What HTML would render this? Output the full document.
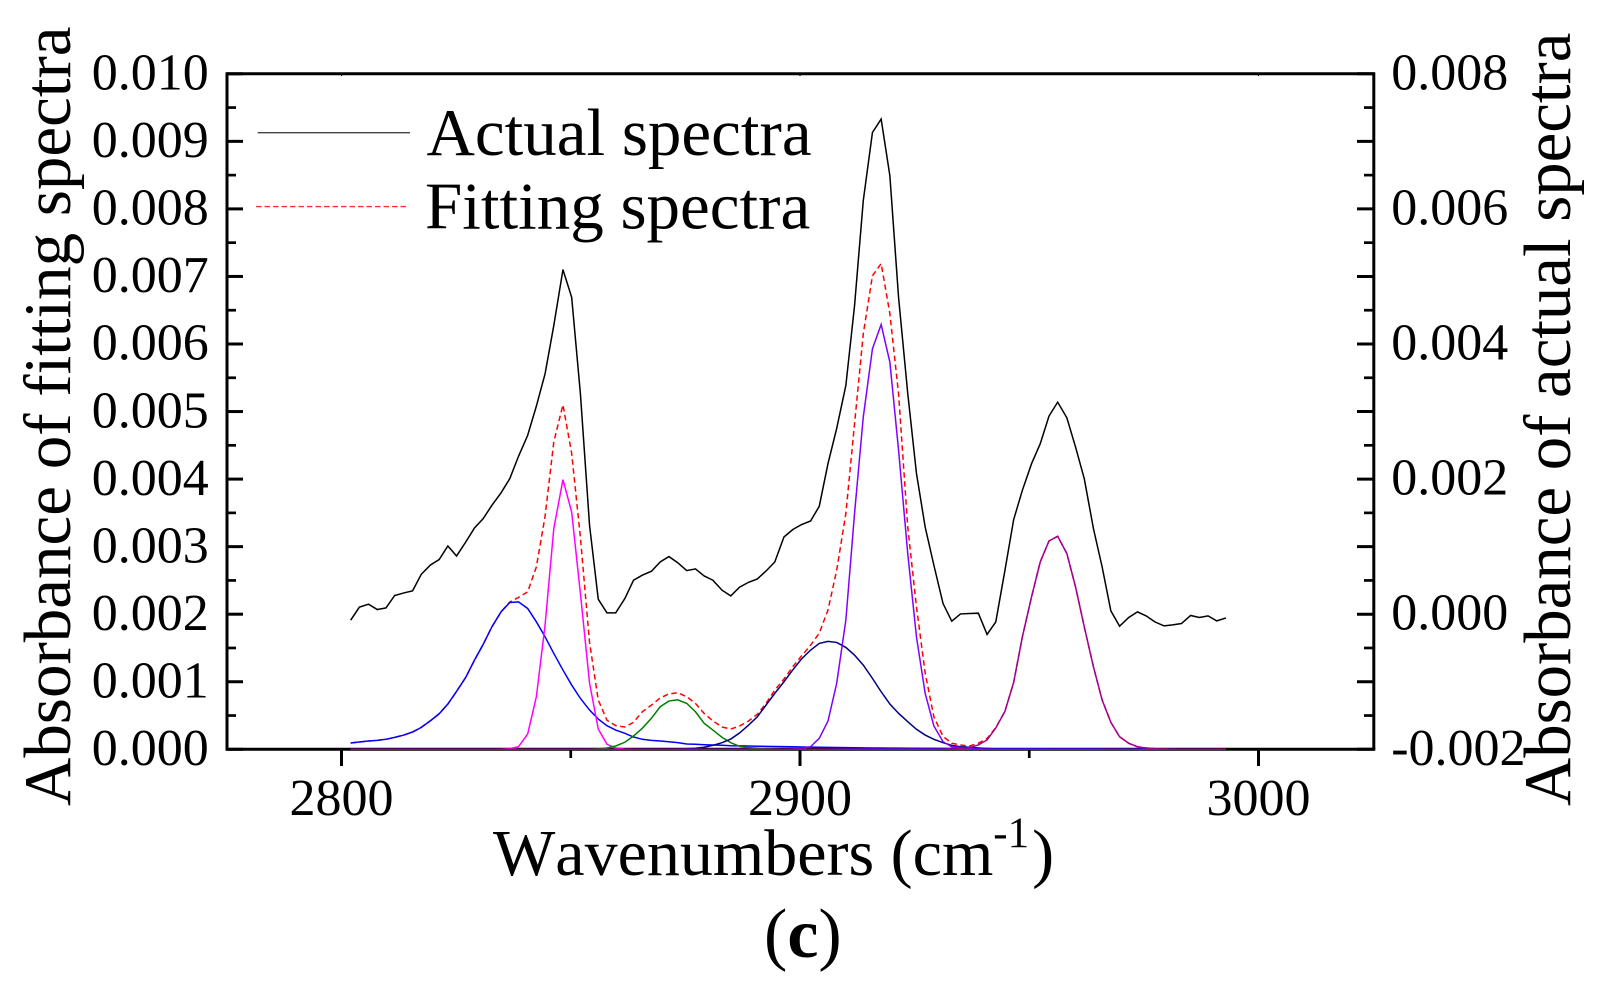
<!DOCTYPE html>
<html>
<head>
<meta charset="utf-8">
<title>Absorbance spectra (c)</title>
<style>
html,body{margin:0;padding:0;background:#fff;width:1605px;height:993px;overflow:hidden}
svg{display:block}
text{font-family:"Liberation Serif","Times New Roman",serif;fill:#000}
</style>
</head>
<body>
<svg id="chart" xmlns="http://www.w3.org/2000/svg" width="1605" height="993" viewBox="0 0 1605 993">
  <rect x="0" y="0" width="1605" height="993" fill="#fff"/>
  <g id="ticks"></g>
  <g id="series"></g>
  <path d="M227 749.3V73.8H1373.8V749.3" fill="none" stroke="#000" stroke-width="3"/>
  <g id="labels"></g>

  <line x1="257.7" y1="132.7" x2="410" y2="132.7" stroke="#444" stroke-width="1.4"/>
  <text x="426.5" y="155" font-size="67">Actual spectra</text>
  <line x1="256" y1="206.6" x2="408" y2="206.6" stroke="#ff3030" stroke-width="1.4" stroke-dasharray="5.5 3"/>
  <text x="425" y="228.5" font-size="67">Fitting spectra</text>

  <text transform="translate(70 806) rotate(-90)" font-size="67">Absorbance of fitting spectra</text>
  <text transform="translate(1570 806) rotate(-90)" font-size="66.8">Absorbance of actual spectra</text>
  <text x="493" y="875" font-size="66" style="font-kerning:none">Wavenumbers (cm<tspan dy="-28" font-size="43">-1</tspan><tspan dy="28" dx="3">)</tspan></text>
  <text x="764" y="957" font-size="70">(<tspan font-weight="bold">c</tspan>)</text>
</svg>

<script>
var wavenumbers = [2802.0,2803.9,2805.9,2807.8,2809.7,2811.6,2813.6,2815.5,2817.4,2819.4,
2821.3,2823.2,2825.1,2827.1,2829.0,2830.9,2832.8,2834.8,2836.7,2838.6,
2840.6,2842.5,2844.4,2846.3,2848.3,2850.2,2852.1,2854.1,2856.0,2857.9,
2859.8,2861.8,2863.7,2865.6,2867.6,2869.5,2871.4,2873.3,2875.3,2877.2,
2879.1,2881.0,2883.0,2884.9,2886.8,2888.8,2890.7,2892.6,2894.5,2896.5,
2898.4,2900.3,2902.3,2904.2,2906.1,2908.0,2910.0,2911.9,2913.8,2915.8,
2917.7,2919.6,2921.5,2923.5,2925.4,2927.3,2929.2,2931.2,2933.1,2935.0,
2937.0,2938.9,2940.8,2942.7,2944.7,2946.6,2948.5,2950.5,2952.4,2954.3,
2956.2,2958.2,2960.1,2962.0,2964.0,2965.9,2967.8,2969.7,2971.7,2973.6,
2975.5,2977.4,2979.4,2981.3,2983.2,2985.2,2987.1,2989.0,2990.9,2992.9];

/* all absorbance values below are in units of 0.001 */
var actualSpectra = [-0.089,0.104,0.148,0.069,0.093,0.277,0.315,0.345,0.591,0.729,
0.809,1.010,0.862,1.069,1.276,1.415,1.612,1.797,2.006,2.336,
2.647,3.080,3.559,4.273,5.101,4.692,3.268,1.316,0.222,0.019,
0.019,0.232,0.503,0.577,0.636,0.773,0.853,0.764,0.646,0.670,
0.566,0.503,0.355,0.271,0.399,0.473,0.522,0.640,0.773,1.143,
1.252,1.326,1.380,1.597,2.228,2.750,3.386,4.569,6.122,7.131,
7.330,6.491,4.687,3.268,2.085,1.291,0.725,0.158,-0.104,0.004,
0.010,0.015,-0.300,-0.114,0.651,1.400,1.834,2.228,2.524,2.932,
3.139,2.908,2.474,2.006,1.267,0.699,0.049,-0.177,-0.049,0.034,
-0.025,-0.114,-0.173,-0.158,-0.138,-0.019,-0.049,-0.025,-0.099,-0.055];

var fittingSpectra = [0.093,0.108,0.123,0.133,0.148,0.177,0.211,0.256,0.325,0.423,
0.526,0.670,0.858,1.065,1.320,1.553,1.813,2.035,2.180,2.248,
2.331,2.700,3.450,4.550,5.100,4.380,3.140,1.580,0.730,0.430,
0.350,0.330,0.400,0.556,0.655,0.760,0.820,0.837,0.778,0.680,
0.530,0.420,0.330,0.300,0.344,0.420,0.520,0.680,0.877,1.040,
1.220,1.380,1.540,1.720,2.060,2.650,3.490,4.820,6.150,7.010,
7.190,6.450,5.260,3.290,2.110,1.130,0.480,0.190,0.090,0.063,
0.049,0.090,0.160,0.320,0.565,0.990,1.665,2.256,2.774,3.084,
3.154,2.898,2.404,1.813,1.221,0.729,0.399,0.186,0.089,0.038,
0.019,0.010,0.005,0.002,0.001,0,0,0,0,0];

var peak2837 = [0.093,0.108,0.123,0.133,0.148,0.177,0.211,0.256,0.325,0.423,
0.526,0.670,0.858,1.065,1.320,1.553,1.813,2.035,2.174,2.182,
2.085,1.887,1.665,1.419,1.173,0.951,0.754,0.581,0.448,0.349,
0.285,0.237,0.182,0.148,0.133,0.123,0.112,0.098,0.078,0.074,
0.068,0.064,0.059,0.053,0.050,0.048,0.046,0.044,0.042,0.040,
0.037,0.034,0.032,0.030,0.028,0.026,0.024,0.022,0.021,0.020,
0.019,0.018,0.017,0.016,0.015,0.014,0.013,0.012,0.011,0.010,
0.010,0.009,0.009,0.008,0.008,0.007,0.007,0.006,0.006,0.005,
0.005,0.005,0.004,0.004,0.004,0.003,0.003,0.003,0.003,0.002,
0.002,0.002,0.002,0.002,0.001,0.001,0.001,0.001,0.001,0.001];

var peak2847 = [0,0,0,0,0,0,0,0,0,0,
0,0,0,0,0,0,0,0,0.010,0.038,
0.226,0.778,1.838,3.268,3.992,3.513,2.311,0.980,0.300,0.074,
0.019,0.004,0,0,0,0,0,0,0,0,
0,0,0,0,0,0,0,0,0,0,
0,0,0,0,0,0,0,0,0,0,
0,0,0,0,0,0,0,0,0,0,
0,0,0,0,0,0,0,0,0,0,
0,0,0,0,0,0,0,0,0,0,
0,0,0,0,0,0,0,0,0,0];

var peak2873 = [0,0,0,0,0,0,0,0,0,0,
0,0,0,0,0,0,0,0,0,0,
0,0,0,0,0,0,0,0,0.006,0.019,
0.049,0.104,0.197,0.311,0.459,0.630,0.714,0.733,0.680,0.556,
0.384,0.285,0.177,0.098,0.044,0.024,0.015,0.008,0.004,0,
0,0,0,0,0,0,0,0,0,0,
0,0,0,0,0,0,0,0,0,0,
0,0,0,0,0,0,0,0,0,0,
0,0,0,0,0,0,0,0,0,0,
0,0,0,0,0,0,0,0,0,0];

var peak2907 = [0,0,0,0,0,0,0,0,0,0,
0,0,0,0,0,0,0,0,0,0,
0,0,0,0,0,0,0,0,0,0,
0,0,0,0,0,0,0,0.004,0.008,0.015,
0.030,0.059,0.098,0.152,0.241,0.359,0.482,0.655,0.828,1.000,
1.173,1.335,1.468,1.567,1.597,1.582,1.508,1.394,1.246,1.050,
0.852,0.670,0.532,0.408,0.296,0.211,0.148,0.098,0.059,0.038,
0.030,0.020,0.012,0.006,0.003,0,0,0,0,0,
0,0,0,0,0,0,0,0,0,0,
0,0,0,0,0,0,0,0,0,0];

var peak2916 = [0,0,0,0,0,0,0,0,0,0,
0,0,0,0,0,0,0,0,0,0,
0,0,0,0,0,0,0,0,0,0,
0,0,0,0,0,0,0,0,0,0,
0,0,0,0,0,0,0,0,0,0,
0.004,0.012,0.038,0.163,0.418,0.976,1.912,3.494,4.918,5.929,
6.289,5.731,4.426,2.898,1.665,0.828,0.345,0.112,0.038,0.024,
0.010,0.004,0,0,0,0,0,0,0,0,
0,0,0,0,0,0,0,0,0,0,
0,0,0,0,0,0,0,0,0,0];

var peak2955 = [0,0,0,0,0,0,0,0,0,0,
0,0,0,0,0,0,0,0,0,0,
0,0,0,0,0,0,0,0,0,0,
0,0,0,0,0,0,0,0,0,0,
0,0,0,0,0,0,0,0,0,0,
0,0,0,0,0,0,0,0,0,0,
0,0,0,0,0,0,0,0,0.004,0.012,
0.024,0.064,0.138,0.315,0.562,0.991,1.665,2.256,2.774,3.084,
3.154,2.898,2.404,1.813,1.221,0.729,0.399,0.186,0.089,0.038,
0.019,0.010,0.005,0,0,0,0,0,0,0];

var xTickValues = [2800,2900,3000];
var xTickLabels = ["2800","2900","3000"];
var xMinorTickValues = [2850,2950];
var leftTickValues = [0,1,2,3,4,5,6,7,8,9,10];
var leftTickLabels = ["0.000","0.001","0.002","0.003","0.004","0.005","0.006","0.007","0.008","0.009","0.010"];
var rightTickValues = [-2,0,2,4,6,8];
var rightTickLabels = ["-0.002","0.000","0.002","0.004","0.006","0.008"];

var NS = "http://www.w3.org/2000/svg";
function xScale(w){ return 341.5 + (w - 2800) * 4.585; }
function yLeft(v){ return 749.3 - v * 67.55; }
function yRight(v){ return 749.3 - (v + 2) * 67.55; }

function make(tag, parent){
  var el = document.createElementNS(NS, tag);
  parent.appendChild(el);
  return el;
}

var tickGroup = document.getElementById("ticks");
var labelGroup = document.getElementById("labels");
var seriesGroup = document.getElementById("series");

function tickLine(x1, y1, x2, y2, w, name){
  var t = make("line", tickGroup);
  t.setAttribute("x1", x1);
  t.setAttribute("y1", y1);
  t.setAttribute("x2", x2);
  t.setAttribute("y2", y2);
  t.setAttribute("stroke", "#000");
  t.setAttribute("stroke-width", w);
  
  
}

function tickText(x, y, str, anchor, name){
  var t = make("text", labelGroup);
  t.setAttribute("x", x);
  t.setAttribute("y", y);
  t.setAttribute("font-size", "52");
  t.setAttribute("text-anchor", anchor);
  t.textContent = str;
  
  
}

leftTickValues.forEach(function(v, i){
  var y = yLeft(v);
  tickLine(227, y, 243, y, 3, "left-major-tick");
  tickLine(1357, y, 1373.8, y, 3, "right-major-tick");
  tickText(208.8, y + 15.7, leftTickLabels[i], "end", "left-tick-label");
  if (i < leftTickValues.length - 1) {
    var ym = yLeft(v + 0.5);
    tickLine(227, ym, 236, ym, 2.7, "left-minor-tick");
    tickLine(1364, ym, 1373.8, ym, 2.7, "right-minor-tick");
  }
});

rightTickValues.forEach(function(v, i){
  tickText(1391.2, yRight(v) + 15.5, rightTickLabels[i], "start", "right-tick-label");
});

xTickValues.forEach(function(v, i){
  var x = xScale(v);
  tickLine(x, 749.3, x, 766, 3, "x-major-tick");
  tickLine(x, 73.8, x, 76, 1.2, "top-tick");
  tickText(x, 815, xTickLabels[i], "middle", "x-tick-label");
});

xMinorTickValues.forEach(function(v){
  var x = xScale(v);
  tickLine(x, 749.3, x, 758, 2.7, "x-minor-tick");
});

var bottomAxis = make("line", tickGroup);
bottomAxis.setAttribute("x1", 225.5);
bottomAxis.setAttribute("y1", 749.3);
bottomAxis.setAttribute("x2", 1375.3);
bottomAxis.setAttribute("y2", 749.3);
bottomAxis.setAttribute("stroke", "#000");
bottomAxis.setAttribute("stroke-width", 3);



function drawSeries(values, yFn, color, width, dash, name){
  var pts = values.map(function(v, i){
    return xScale(wavenumbers[i]).toFixed(2) + "," + yFn(v).toFixed(2);
  }).join(" ");
  var line = make("polyline", seriesGroup);
  line.setAttribute("points", pts);
  line.setAttribute("fill", "none");
  line.setAttribute("stroke", color);
  line.setAttribute("stroke-width", width);
  line.setAttribute("stroke-linejoin", "miter");
  if (dash) { line.setAttribute("stroke-dasharray", dash); }
  
  
}

drawSeries(actualSpectra, yRight, "#000000", 1.5, null, "actual-spectra-line");
drawSeries(fittingSpectra, yLeft, "#ff0000", 1.5, "5.5 3.5", "fitting-spectra-line");
drawSeries(peak2837, yLeft, "#0000ff", 1.5, null, "peak-2837-line");
drawSeries(peak2847, yLeft, "#ff00ff", 1.5, null, "peak-2847-line");
drawSeries(peak2873, yLeft, "#008000", 1.5, null, "peak-2873-line");
drawSeries(peak2907, yLeft, "#000080", 1.5, null, "peak-2907-line");
drawSeries(peak2916, yLeft, "#8000ff", 1.5, null, "peak-2916-line");
drawSeries(peak2955, yLeft, "#a00090", 1.5, null, "peak-2955-line");
</script>
</body>
</html>
